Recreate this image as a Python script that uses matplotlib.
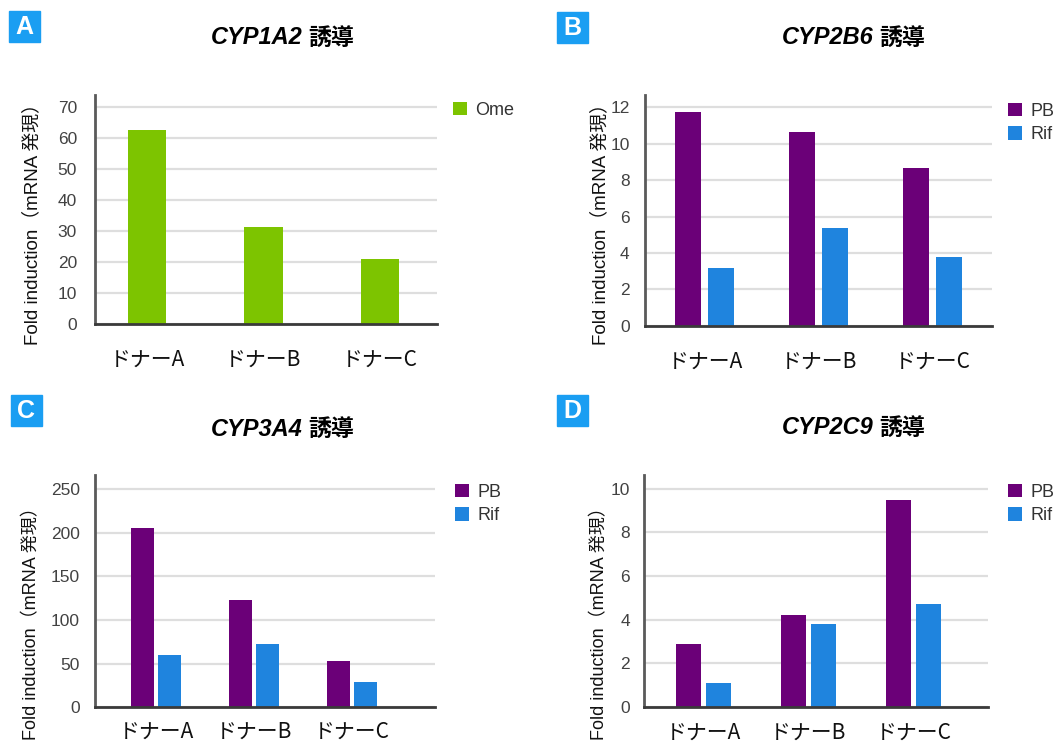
import matplotlib
matplotlib.use("Agg")
import matplotlib.pyplot as plt
import numpy as np
from matplotlib.patches import Rectangle

plt.rcParams['font.family'] = ['Liberation Sans', 'Noto Sans CJK JP', 'DejaVu Sans']

# ---- data ----
donors = ["ドナーA", "ドナーB", "ドナーC"]
series_pb_rif = ["PB", "Rif"]

cyp1a2_ome = [62.5, 31.3, 21.1]

cyp2b6_pb = [11.76, 10.63, 8.65]
cyp2b6_rif = [3.15, 5.38, 3.76]

cyp3a4_pb = [205, 123, 53.5]
cyp3a4_rif = [60, 72.5, 28.6]

cyp2c9_pb = [2.87, 4.21, 9.49]
cyp2c9_rif = [1.07, 3.78, 4.72]

panel_letters = ["A", "B", "C", "D"]
gene_names = ["CYP1A2", "CYP2B6", "CYP3A4", "CYP2C9"]
title_suffix = "誘導"
ylabel_text = "Fold induction（mRNA 発現）"

c_green = "#7dc400"
c_purple = "#6b0078"
c_blue = "#1f84de"
c_badge = "#1a9ef2"

W, H = 1054, 742
fig = plt.figure(figsize=(W / 100, H / 100), dpi=100)


def fx(px):
    return px / W


def fy(py):
    return 1 - py / H


def make_axes(l, t, r, b):
    return fig.add_axes([fx(l), fy(b), fx(r - l), (b - t) / H])


def style_axes(ax, ymax, ticks, xlim, xpad, ypad):
    ax.set_ylim(0, ymax)
    ax.set_xlim(*xlim)
    ax.set_yticks(ticks)
    ax.set_yticklabels([f"{t:g}" for t in ticks])
    ax.yaxis.grid(True, color="#dedede", linewidth=1.6)
    ax.set_axisbelow(True)
    for s in ["top", "right"]:
        ax.spines[s].set_visible(False)
    ax.spines["left"].set_color("#5a5a5a")
    ax.spines["left"].set_linewidth(2)
    ax.spines["bottom"].set_color("#3a3a3a")
    ax.spines["bottom"].set_linewidth(2)
    ax.spines["bottom"].set_zorder(5)
    ax.tick_params(axis="both", length=0)
    ax.tick_params(axis="y", labelsize=12.5, labelcolor="#424242", pad=ypad)
    ax.tick_params(axis="x", labelsize=15, labelcolor="#111111", pad=xpad)
    ax.set_xticks(np.arange(len(donors)))
    ax.set_xticklabels(donors, family=["Noto Sans CJK JP"])
    for lab in ax.get_yticklabels():
        lab.set_fontweight("medium")


def panel_header(letter, gene, bx, by, tx, ty):
    fig.patches.append(Rectangle((fx(bx), fy(by + 31)), fx(31), 31 / H,
                                 transform=fig.transFigure, color=c_badge))
    fig.text(fx(bx + 15.5), fy(by + 16), letter, color="white", fontsize=18,
             fontweight="bold", ha="center", va="center",
             family=["Liberation Sans"])
    fig.text(fx(tx), fy(ty), gene, fontsize=17, fontweight="bold",
             style="italic", ha="right", va="center",
             family=["Liberation Sans"])
    fig.text(fx(tx + 5), fy(ty), title_suffix, fontsize=16.5,
             fontweight="bold", ha="left", va="center",
             family=["Noto Sans CJK JP"])


def add_ylabel(x, yc, size=13.5):
    fig.text(fx(x), fy(yc), ylabel_text, rotation=90, fontsize=size,
             ha="center", va="center", color="#111111",
             family=["Liberation Sans", "Noto Sans CJK JP"])


def add_legend(ax, lx, ly):
    leg = ax.legend(loc="upper left", bbox_to_anchor=(fx(lx), fy(ly)),
                    bbox_transform=fig.transFigure, frameon=False,
                    fontsize=13, handlelength=0.8, handleheight=0.75,
                    handletextpad=0.45, labelspacing=0.35, borderpad=0,
                    borderaxespad=0)
    for t in leg.get_texts():
        t.set_color("#333333")
    return leg


x = np.arange(len(donors))

# ---- A: CYP1A2 ----
axA = make_axes(95, 95, 437, 324)
axA.bar(x, cyp1a2_ome, width=0.33, color=c_green, label="Ome", zorder=3)
style_axes(axA, 73.9, range(0, 71, 10), (-0.446, 2.49), 18, 13)
add_legend(axA, 453, 102)
panel_header("A", gene_names[0], 9, 11, 303, 38)
add_ylabel(32, 220)

# ---- B: CYP2B6 ----
axB = make_axes(645, 95, 992, 325.7)
wB, oB = 0.229, 0.145
axB.bar(x - oB, cyp2b6_pb, width=wB, color=c_purple, label=series_pb_rif[0], zorder=3)
axB.bar(x + oB, cyp2b6_rif, width=wB, color=c_blue, label=series_pb_rif[1], zorder=3)
style_axes(axB, 12.68, range(0, 13, 2), (-0.527, 2.523), 18, 11)
add_legend(axB, 1008, 103)
panel_header("B", gene_names[1], 557, 12, 874, 38)
add_ylabel(600, 220)

# ---- C: CYP3A4 ----
axC = make_axes(95, 475, 435, 707.3)
wC, oC = 0.235, 0.14
axC.bar(x - oC, cyp3a4_pb, width=wC, color=c_purple, label=series_pb_rif[0], zorder=3)
axC.bar(x + oC, cyp3a4_rif, width=wC, color=c_blue, label=series_pb_rif[1], zorder=3)
style_axes(axC, 266, range(0, 251, 50), (-0.624, 2.85), 10, 11)
add_legend(axC, 455, 484)
panel_header("C", gene_names[2], 11, 395, 303, 429)
add_ylabel(32, 619, size=13)

# ---- D: CYP2C9 ----
axD = make_axes(644, 475, 988, 706.7)
wD, oD = 0.24, 0.141
axD.bar(x - oD, cyp2c9_pb, width=wD, color=c_purple, label=series_pb_rif[0], zorder=3)
axD.bar(x + oD, cyp2c9_rif, width=wD, color=c_blue, label=series_pb_rif[1], zorder=3)
style_axes(axD, 10.64, range(0, 11, 2), (-0.567, 2.71), 11, 10)
add_legend(axD, 1008, 484)
panel_header("D", gene_names[3], 557, 395, 874, 428)
add_ylabel(600, 619, size=13)

fig.savefig("out.png", dpi=100, facecolor="white")
